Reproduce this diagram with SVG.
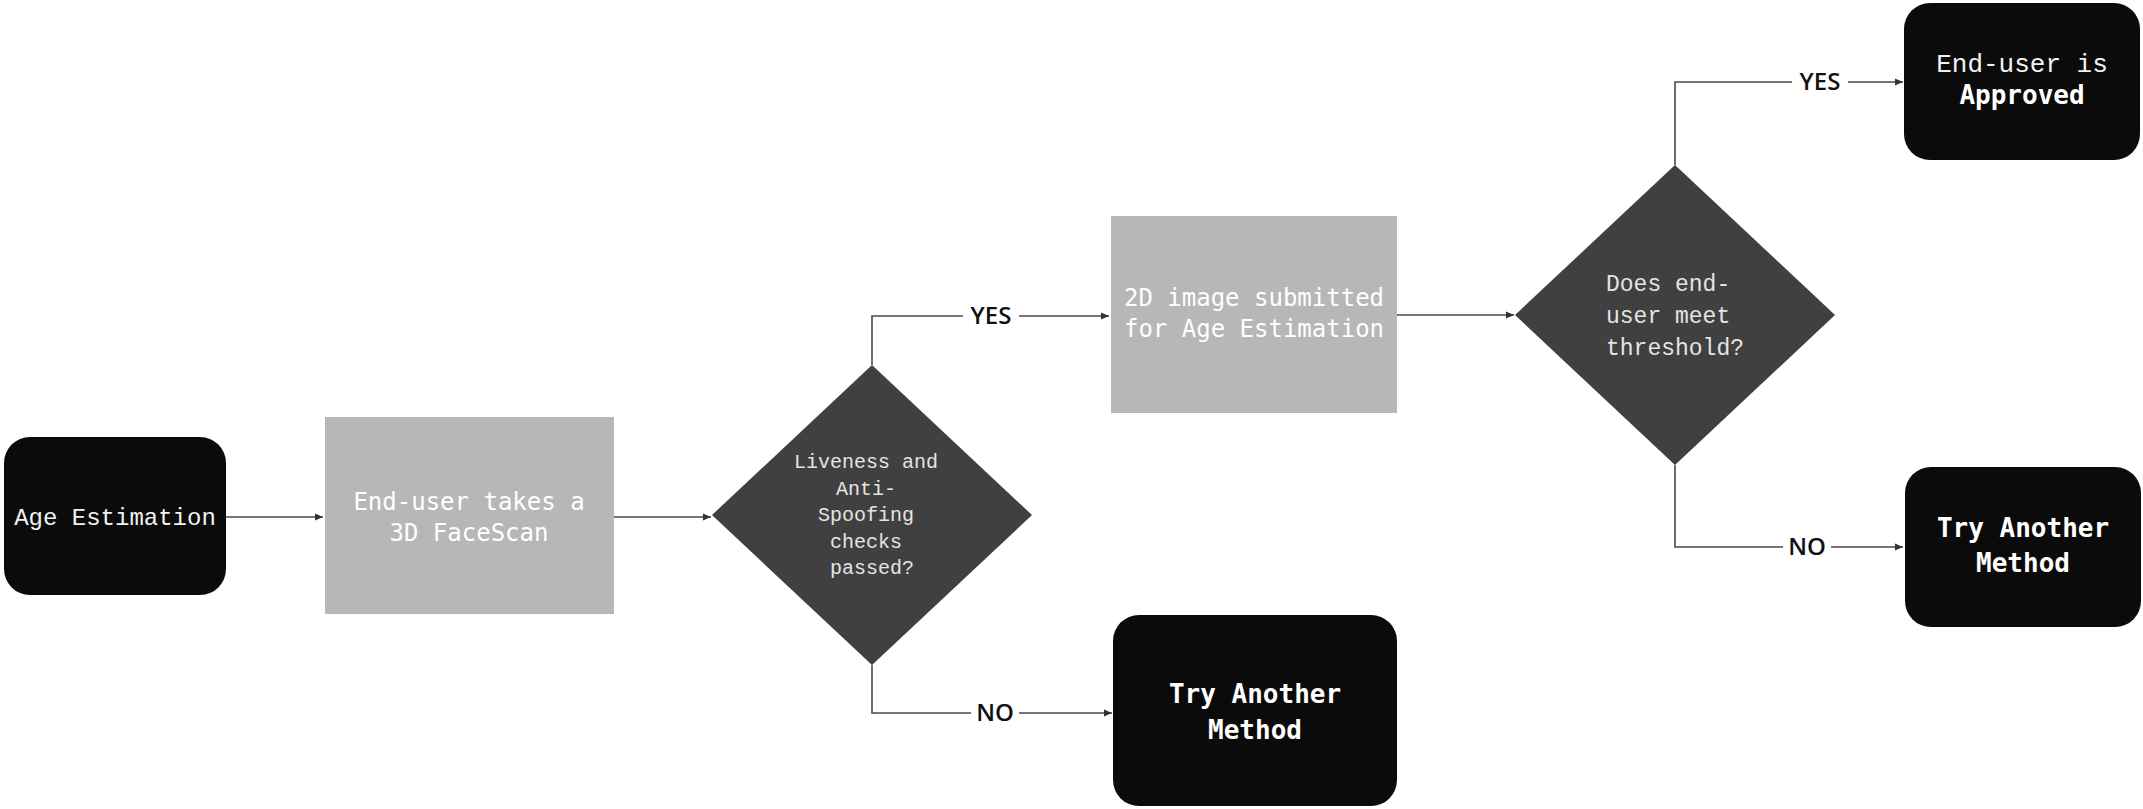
<svg xmlns="http://www.w3.org/2000/svg" width="2143" height="809" viewBox="0 0 2143 809">
<defs>
<style>
.term{fill:#0b0b0b}
.proc{fill:#b7b7b7}
.dec{fill:#404040}
.conn{fill:none;stroke:#4a4a4a;stroke-width:1.6}
.mono{font-family:"Liberation Mono","DejaVu Sans Mono",monospace;text-anchor:middle}
.med{font-family:"DejaVu Sans Mono","Liberation Mono",monospace;text-anchor:middle}
.lbl{font-family:"Open Sans","Noto Sans",sans-serif;font-size:24px;font-weight:600;fill:#111111;text-anchor:middle}
</style>
<marker id="arr" markerWidth="9" markerHeight="8" refX="8" refY="4" orient="auto" markerUnits="userSpaceOnUse">
<path d="M0,0.5 L8,4 L0,7.5 z" fill="#333"/>
</marker>
</defs>
<rect width="2143" height="809" fill="#ffffff"/>

<g id="connectors">
<path class="conn" d="M226,517 H323" marker-end="url(#arr)"/>
<path class="conn" d="M614,517 H711" marker-end="url(#arr)"/>
<path class="conn" d="M872,365 V316 H1109" marker-end="url(#arr)"/>
<path class="conn" d="M872,665 V713 H1112" marker-end="url(#arr)"/>
<path class="conn" d="M1397,315 H1514" marker-end="url(#arr)"/>
<path class="conn" d="M1675,165 V82 H1903" marker-end="url(#arr)"/>
<path class="conn" d="M1675,465 V547 H1903" marker-end="url(#arr)"/>
<rect x="963" y="300" width="56" height="32" fill="#fff"/>
<text class="lbl" x="991" y="324">YES</text>
<rect x="971" y="697" width="48" height="32" fill="#fff"/>
<text class="lbl" x="995" y="721">NO</text>
<rect x="1792" y="66" width="56" height="32" fill="#fff"/>
<text class="lbl" x="1820" y="90">YES</text>
<rect x="1783" y="531" width="48" height="32" fill="#fff"/>
<text class="lbl" x="1807" y="555">NO</text>
</g>

<g id="start">
<rect class="term" x="4" y="437" width="222" height="158" rx="26"/>
<text class="mono" x="115" y="525" font-size="24" fill="#f2f2f2">Age Estimation</text>
</g>

<g id="facescan">
<rect class="proc" x="325" y="417" width="289" height="197"/>
<text class="med" x="469" y="510" font-size="24" fill="#ffffff">End-user takes a</text>
<text class="med" x="469" y="541" font-size="24" fill="#ffffff">3D FaceScan</text>
</g>

<g id="liveness">
<polygon class="dec" points="872,365 1032,515 872,665 712,515"/>
<text class="mono" font-size="20" fill="#e4e4e4">
<tspan x="872" y="468">Liveness and</tspan>
<tspan x="872" y="495">Anti-</tspan>
<tspan x="872" y="521">Spoofing</tspan>
<tspan x="872" y="548">checks</tspan>
<tspan x="872" y="574">passed?</tspan>
</text>
</g>

<g id="submit2d">
<rect class="proc" x="1111" y="216" width="286" height="197"/>
<text class="med" x="1254" y="306" font-size="24" fill="#ffffff">2D image submitted</text>
<text class="med" x="1254" y="337" font-size="24" fill="#ffffff">for Age Estimation</text>
</g>

<g id="fail1">
<rect class="term" x="1113" y="615" width="284" height="191" rx="26"/>
<text class="med" x="1255" y="703" font-size="26" font-weight="bold" fill="#ffffff">Try Another</text>
<text class="med" x="1255" y="739" font-size="26" font-weight="bold" fill="#ffffff">Method</text>
</g>

<g id="threshold">
<polygon class="dec" points="1675,165 1835,315 1675,465 1515,315"/>
<text class="mono" font-size="23" fill="#e4e4e4">
<tspan x="1675" y="291">Does end-</tspan>
<tspan x="1675" y="323">user meet</tspan>
<tspan x="1675" y="355">threshold?</tspan>
</text>
</g>

<g id="approved">
<rect class="term" x="1904" y="3" width="236" height="157" rx="26"/>
<text class="mono" x="2022" y="72" font-size="26" fill="#f2f2f2">End-user is</text>
<text class="med" x="2022" y="104" font-size="26" font-weight="bold" fill="#ffffff">Approved</text>
</g>

<g id="fail2">
<rect class="term" x="1905" y="467" width="236" height="160" rx="26"/>
<text class="med" x="2023" y="537" font-size="26" font-weight="bold" fill="#ffffff">Try Another</text>
<text class="med" x="2023" y="572" font-size="26" font-weight="bold" fill="#ffffff">Method</text>
</g>
</svg>
